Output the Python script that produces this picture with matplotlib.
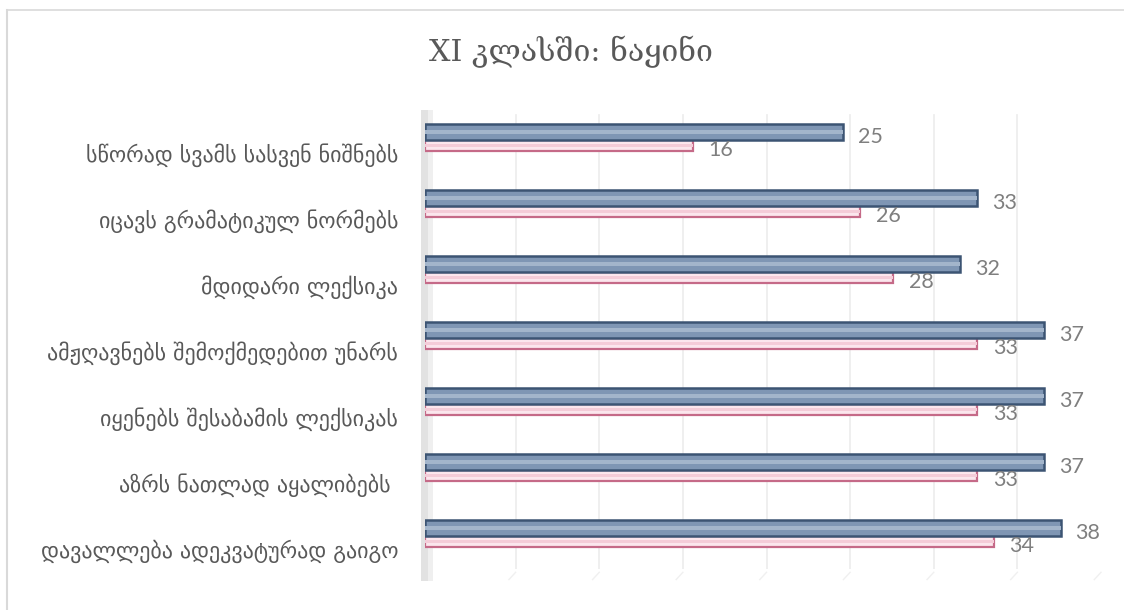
import matplotlib
matplotlib.use("Agg")
import matplotlib.pyplot as plt
import matplotlib.transforms as mtransforms
from matplotlib.lines import Line2D
from matplotlib.patches import Rectangle

# data
categories = [
    "სწორად სვამს სასვენ ნიშნებს",
    "იცავს გრამატიკულ ნორმებს",
    "მდიდარი ლექსიკა",
    "ამჟღავნებს შემოქმედებით უნარს",
    "იყენებს შესაბამის ლექსიკას",
    "აზრს ნათლად აყალიბებს ",
    "დავალლება ადეკვატურად გაიგო",
]
series_a = [25, 33, 32, 37, 37, 37, 38]
series_b = [16, 26, 28, 33, 33, 33, 34]
title = "XI კლასში: ნაყინი"

fig = plt.figure(figsize=(11.24, 6.10), dpi=100)
ax = fig.add_axes([425 / 1124, 1 - 569 / 610, 669 / 1124, 462 / 610])

ypos = list(range(len(categories)))
ya = [y - 0.12 for y in ypos]
yb = [y + 0.085 for y in ypos]

# vertical gridlines, shifted like a back wall
shift = mtransforms.ScaledTranslation(7 / 100, 0, fig.dpi_scale_trans)
for v in range(5, 45, 5):
    ax.plot([v, v], [-0.38, 6.55], color="#ececec", lw=1.2,
            transform=ax.transData + shift, zorder=0)
    ax.plot([v, v - 0.4], [6.55, 6.66], color="#f0f0f0", lw=1.0,
            transform=ax.transData + shift, zorder=0, clip_on=False)

# left wall
ax.add_patch(Rectangle((-0.25, -0.45), 0.4, 7.13, facecolor="#e2e2e2",
                       edgecolor="none", zorder=0, clip_on=False))
ax.add_patch(Rectangle((0.15, -0.45), 0.3, 7.13, facecolor="#efefef",
                       edgecolor="none", zorder=0, clip_on=False))

# pink series
ax.barh(yb, series_b, height=0.17, color="#fbe6ed", edgecolor="#c56a88",
        linewidth=1.6, zorder=2)
ax.barh(yb, series_b, height=0.05, color="#f4ccd8", edgecolor="none", zorder=2)
# blue series
ax.barh(ya, series_a, height=0.24, color="#7f96b4", edgecolor="#3c5473",
        linewidth=1.8, zorder=3)
ax.barh(ya, series_a, height=0.07, color="#a3b5cb", edgecolor="none", zorder=3)

num_font = ["Lato", "DejaVu Sans"]
for y, v in zip(ya, series_a):
    ax.text(v + 0.9, y + 0.07, str(v), ha="left", va="center", fontsize=15.5,
            color="#7f7f7f", family=num_font, zorder=5)
for y, v in zip(yb, series_b):
    ax.text(v + 0.95, y + 0.06, str(v), ha="left", va="center", fontsize=15.5,
            color="#7f7f7f", family=num_font, zorder=5)

# category labels
lab_trans = mtransforms.blended_transform_factory(fig.transFigure, ax.transData)
for y, c in zip(ypos, categories):
    fig.text(398 / 1124, y + 0.23, c, ha="right", va="center", fontsize=15.8,
             color="#595959", family="DejaVu Sans", transform=lab_trans)

ax.set_xlim(0, 40)
ax.set_ylim(6.5, -0.5)
ax.axis("off")

fig.text(571 / 1124, 1 - 52 / 610, title, ha="center", va="center", fontsize=21.8,
         color="#595959", family="DejaVu Serif")

# outer frame (top and left edges)
fig.add_artist(Line2D([7 / 1124, 7 / 1124], [0, 1 - 10 / 610],
                      transform=fig.transFigure, color="#d9d9d9", lw=1.5))
fig.add_artist(Line2D([7 / 1124, 1], [1 - 10 / 610, 1 - 10 / 610],
                      transform=fig.transFigure, color="#d9d9d9", lw=1.2))

fig.savefig("out.png", dpi=100, facecolor="white")
